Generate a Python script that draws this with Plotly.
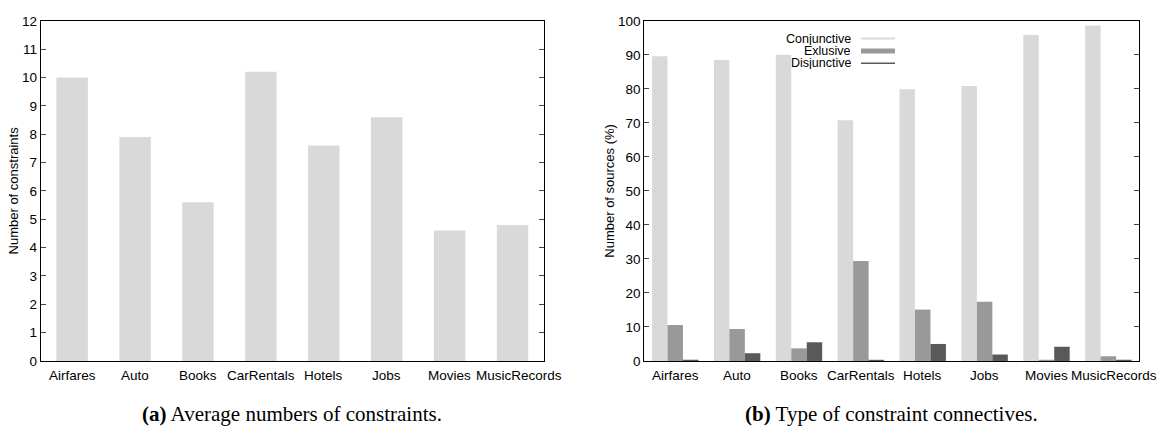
import plotly.graph_objects as go

categories = ["Airfares", "Auto", "Books", "CarRentals", "Hotels", "Jobs", "Movies", "MusicRecords"]
avg_constraints = [10.0, 7.9, 5.6, 10.2, 7.6, 8.6, 4.6, 4.8]
conjunctive = [89.6, 88.5, 90.0, 70.8, 79.9, 80.8, 95.8, 98.6]
exclusive = [10.6, 9.4, 3.7, 29.4, 15.1, 17.4, 0.2, 1.4]
disjunctive = [0.2, 2.3, 5.5, 0.2, 5.0, 1.9, 4.2, 0.2]

LIGHT = "#d9d9d9"
MED = "#999999"
DARK = "#595959"
FONT = "Liberation Sans, Arial, sans-serif"
SERIF = "Liberation Serif, Times New Roman, serif"

W, H = 1162, 432
def px(x):
    return x / W
def py(y):
    return (H - y) / H

L_dom = [px(40.7), px(544)]
R_dom = [px(644.3), px(1139.3)]
Y_dom = [py(366.7), py(14.3)]

fig = go.Figure()
fig.add_trace(go.Bar(x=categories, y=avg_constraints, marker=dict(color=LIGHT, line=dict(width=0)),
                     xaxis="x", yaxis="y", showlegend=False, width=0.5))
fig.add_trace(go.Bar(x=categories, y=conjunctive, name="Conjunctive", marker=dict(color=LIGHT, line=dict(width=0)),
                     xaxis="x2", yaxis="y2", showlegend=False, offsetgroup="a"))
fig.add_trace(go.Bar(x=categories, y=exclusive, name="Exlusive", marker=dict(color=MED, line=dict(width=0)),
                     xaxis="x2", yaxis="y2", showlegend=False, offsetgroup="b"))
fig.add_trace(go.Bar(x=categories, y=disjunctive, name="Disjunctive", marker=dict(color=DARK, line=dict(width=0)),
                     xaxis="x2", yaxis="y2", showlegend=False, offsetgroup="c"))

axis_common = dict(showgrid=False, zeroline=False, showline=True, linecolor="black", linewidth=1,
                   tickfont=dict(family=FONT, size=13.5, color="black"))
yax = dict(axis_common, ticks="inside", ticklen=5, tickcolor="#444", mirror="ticks", domain=Y_dom)
xax = dict(axis_common, ticks="", mirror=True, type="category", range=[-0.5, 7.5],
           showticklabels=False, categoryorder="array", categoryarray=categories)
topax = dict(showgrid=False, zeroline=False, showline=False, ticks="inside", ticklen=5, tickcolor="#444",
             showticklabels=False, range=[-0.5, 7.5], tickvals=list(range(len(categories))), side="top")

fig.update_layout(
    width=W, height=H, margin=dict(l=0, r=0, t=0, b=0),
    paper_bgcolor="white", plot_bgcolor="white",
    barmode="group", bargap=0.25, bargroupgap=0,
    xaxis=dict(xax, domain=L_dom, anchor="y"),
    yaxis=dict(yax, anchor="x", range=[0, 12], dtick=1,
               title=dict(text="Number of constraints", font=dict(family=FONT, size=13, color="black"), standoff=0)),
    xaxis2=dict(xax, domain=R_dom, anchor="y2"),
    yaxis2=dict(yax, anchor="x2", range=[0, 100], dtick=10,
                title=dict(text="Number of sources (%)", font=dict(family=FONT, size=13, color="black"), standoff=0)),
    xaxis3=dict(topax, overlaying="x", anchor="y"),
    xaxis4=dict(topax, overlaying="x2", anchor="y2"),
    showlegend=False,
)

# Category labels under both panels (the last one sits slightly right, as in the original)
for xref in ("x", "x2"):
    for i, cat in enumerate(categories):
        fig.add_annotation(x=cat, xref=xref, y=py(381.7), yref="paper", text=cat, showarrow=False,
                           xanchor="center", yanchor="middle",
                           xshift=6 if i == len(categories) - 1 else 0,
                           font=dict(family=FONT, size=13.5, color="black"))

# Legend drawn inside the right panel
leg = [("Conjunctive", LIGHT, 2, 32.7), ("Exlusive", MED, 5, 45.5), ("Disjunctive", DARK, 1.5, 58.3)]
for name, col, lw, yy in leg:
    fig.add_annotation(x=px(853), y=py(yy), xref="paper", yref="paper", text=name, showarrow=False,
                       xanchor="right", yanchor="middle", font=dict(family=FONT, size=12.5, color="black"),
                       height=12, valign="middle")
    fig.add_shape(type="line", xref="paper", yref="paper", x0=px(861), x1=px(895), y0=py(yy), y1=py(yy),
                  line=dict(color=col, width=lw))

fig.add_annotation(x=(L_dom[0] + L_dom[1]) / 2, y=py(421.5), xref="paper", yref="paper",
                   text="<b>(a)</b> Average numbers of constraints.", showarrow=False,
                   xanchor="center", yanchor="middle", font=dict(family=SERIF, size=21, color="black"))
fig.add_annotation(x=(R_dom[0] + R_dom[1]) / 2, y=py(421.5), xref="paper", yref="paper",
                   text="<b>(b)</b> Type of constraint connectives.", showarrow=False,
                   xanchor="center", yanchor="middle", font=dict(family=SERIF, size=21, color="black"))

fig.write_html("out.html")
